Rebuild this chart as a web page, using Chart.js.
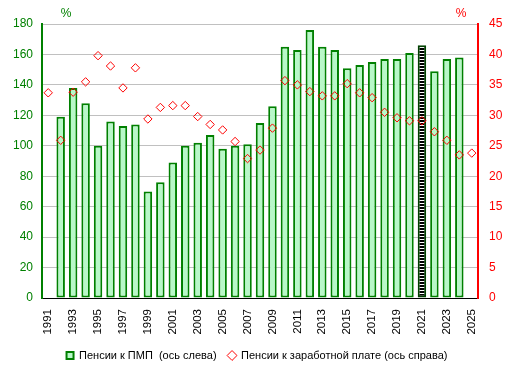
<!DOCTYPE html>
<html><head><meta charset="utf-8">
<script src="https://cdn.jsdelivr.net/npm/chart.js@4/dist/chart.umd.min.js"></script>
<style>html,body{margin:0;padding:0;background:#fff;} canvas{display:block}</style>
</head><body>
<canvas id="c" width="514" height="371"></canvas>
<script>
const years = ['1991','1992','1993','1994','1995','1996','1997','1998','1999','2000',
  '2001','2002','2003','2004','2005','2006','2007','2008','2009','2010',
  '2011','2012','2013','2014','2015','2016','2017','2018','2019','2020',
  '2021','2022','2023','2024','2025'];
const pensionToPMP = [null,119,138,128,100,116,113,114,70,76,
  89,100,102,107,98,100,101,115,126,165,
  163,176,165,163,151,153,155,157,157,161,
  166,149,157,158,null];
const pensionToWage = [33.7,25.9,33.8,35.5,39.8,38.1,34.5,37.8,29.4,31.3,
  31.6,31.6,29.8,28.5,27.6,25.7,22.9,24.3,27.9,35.7,
  35.0,33.9,33.2,33.2,35.2,33.7,32.9,30.5,29.6,29.1,
  29.1,27.3,25.9,23.5,23.8];
const leftTicks = [0,20,40,60,80,100,120,140,160,180];
const rightTicks = [0,5,10,15,20,25,30,35,40,45];
const seriesNames = ['Пенсии к ПМП  (ось слева)', 'Пенсии к заработной плате (ось справа)'];
const highlightYear = '2021';

const canvas = document.getElementById('c');
const ctx = canvas.getContext('2d');
const pc = document.createElement('canvas'); pc.width = 4; pc.height = 3;
const p = pc.getContext('2d');
p.fillStyle = '#000'; p.fillRect(0,0,4,3);
p.fillStyle = '#fff'; p.fillRect(0,2,4,1);
const stripe = ctx.createPattern(pc, 'repeat');

const GREEN = '#008000', RED = '#ff0000';
const font = 'Arial, "Liberation Sans", sans-serif';

const percentLabels = {
  id: 'percentLabels',
  afterDraw(chart) {
    const c = chart.ctx, a = chart.chartArea;
    c.save();
    c.font = '12px ' + font;
    c.textAlign = 'center'; c.textBaseline = 'middle';
    c.fillStyle = GREEN; c.fillText('%', a.left + 24, 14);
    c.fillStyle = RED; c.fillText('%', a.right - 17, 14);
    c.restore();
  }
};

new Chart(ctx, {
  data: {
    labels: years,
    datasets: [
      {
        type: 'bar',
        label: seriesNames[0],
        data: pensionToPMP,
        yAxisID: 'yL',
        backgroundColor: years.map(y => y === highlightYear ? stripe : '#b8f8c8'),
        borderColor: years.map(y => y === highlightYear ? '#004000' : GREEN),
        borderWidth: 2,
        borderSkipped: false,
        barPercentage: 0.68,
        categoryPercentage: 1,
        pointStyle: 'rect',
        order: 2
      },
      {
        type: 'line',
        label: seriesNames[1],
        data: pensionToWage,
        yAxisID: 'yR',
        showLine: false,
        pointStyle: 'rectRot',
        pointRadius: 4.2,
        pointBorderWidth: 1,
        borderColor: RED,
        backgroundColor: 'rgba(0,0,0,0)',
        pointBackgroundColor: 'rgba(0,0,0,0)',
        order: 1
      }
    ]
  },
  options: {
    responsive: false,
    animation: false,
    devicePixelRatio: 1,
    layout: { padding: { top: 24, left: 0, right: 0, bottom: 0 } },
    plugins: {
      tooltip: { enabled: false },
      legend: {
        position: 'bottom',
        labels: {
          sort: (a, b) => seriesNames.indexOf(a.text) - seriesNames.indexOf(b.text),
          usePointStyle: true,
          boxWidth: 7, boxHeight: 7,
          padding: 12,
          color: '#000',
          font: { family: font, size: 11 }
        }
      }
    },
    scales: {
      x: {
        type: 'category',
        offset: true,
        grid: { display: false },
        border: { display: true, color: '#000', width: 1 },
        ticks: {
          autoSkip: false, maxRotation: 90, minRotation: 90,
          padding: 3, color: '#000',
          font: { family: font, size: 11.5 },
          callback: (v, i) => i % 2 === 0 ? years[i] : ''
        },
        afterFit: s => { s.height = 40; }
      },
      yL: {
        type: 'linear', position: 'left', min: 0, max: 180,
        afterBuildTicks: s => { s.ticks = leftTicks.map(v => ({ value: v })); },
        grid: { color: '#c0c0c0', drawTicks: false, lineWidth: 1 },
        border: { color: GREEN, width: 2 },
        ticks: { color: GREEN, padding: 9, font: { family: font, size: 12 } },
        afterFit: s => { s.width = 42; }
      },
      yR: {
        type: 'linear', position: 'right', min: 0, max: 45,
        afterBuildTicks: s => { s.ticks = rightTicks.map(v => ({ value: v })); },
        grid: { drawOnChartArea: false, drawTicks: false },
        border: { color: RED, width: 2 },
        ticks: { color: RED, padding: 11, font: { family: font, size: 12 } },
        afterFit: s => { s.width = 36; }
      }
    }
  },
  plugins: [percentLabels]
});
</script>
</body></html>
